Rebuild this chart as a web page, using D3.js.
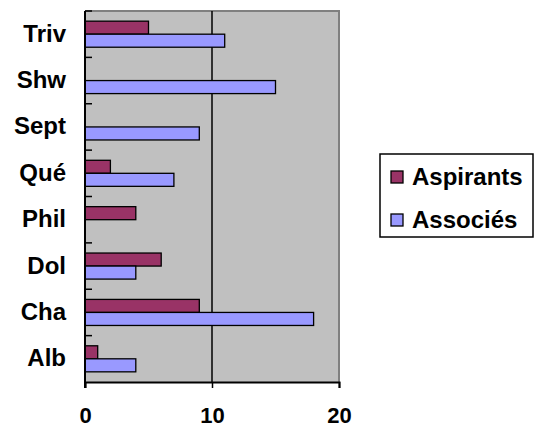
<!DOCTYPE html>
<html>
<head>
<meta charset="utf-8">
<script src="https://cdn.jsdelivr.net/npm/d3@7"></script>
<style>
  body { margin: 0; background: #fff; }
  text { font-family: "Liberation Sans", Arial, sans-serif; font-weight: bold; fill: #000; }
</style>
</head>
<body>
<div id="chart"></div>
<script>
// categories listed top to bottom, as they appear on the chart
const categories = ["Triv", "Shw", "Sept", "Qué", "Phil", "Dol", "Cha", "Alb"];
const aspirants = [5, 0, 0, 2, 4, 6, 9, 1];
const associes = [11, 15, 9, 7, 0, 4, 18, 4];
const seriesNames = ["Aspirants", "Associés"];
const xTicks = [0, 10, 20];

const colors = { Aspirants: "#993366", "Associés": "#9999ff" };
const w = 538;
const h = 423;
const plot = { left: 85, right: 339, top: 11, bottom: 382 };

const svg = d3
  .select("#chart")
  .append("svg")
  .attr("width", w)
  .attr("height", h);

const x = d3.scaleLinear().domain([0, 20]).range([plot.left, plot.right]);
const y = d3
  .scaleBand()
  .domain(categories)
  .range([plot.top, plot.bottom]);
const ySub = d3
  .scaleBand()
  .domain(seriesNames)
  .range([0, y.bandwidth()])
  .paddingInner(0)
  .paddingOuter(0.78);

// plot background + border
svg
  .append("rect")
  .attr("x", plot.left)
  .attr("y", plot.top)
  .attr("width", plot.right - plot.left)
  .attr("height", plot.bottom - plot.top)
  .attr("fill", "#c0c0c0");
svg
  .append("path")
  .attr("d", `M${plot.left},${plot.top}H${plot.right}V${plot.bottom}`)
  .attr("fill", "none")
  .attr("stroke", "#808080")
  .attr("stroke-width", 2);

// gridline
svg
  .selectAll(".grid")
  .data([10])
  .enter()
  .append("line")
  .attr("class", "grid")
  .attr("x1", (d) => x(d))
  .attr("x2", (d) => x(d))
  .attr("y1", plot.top)
  .attr("y2", plot.bottom)
  .attr("stroke", "#000")
  .attr("stroke-width", 1.5);

const rows = categories.map((c, i) => ({
  cat: c,
  values: [
    { name: "Aspirants", value: aspirants[i] },
    { name: "Associés", value: associes[i] },
  ],
}));

const groups = svg
  .selectAll(".cat")
  .data(rows)
  .enter()
  .append("g")
  .attr("class", "cat")
  .attr("transform", (d) => `translate(0,${y(d.cat)})`);

groups
  .selectAll("rect")
  .data((d) => d.values.filter((v) => v.value > 0))
  .enter()
  .append("rect")
  .attr("x", x(0))
  .attr("y", (d) => ySub(d.name))
  .attr("width", (d) => x(d.value) - x(0))
  .attr("height", ySub.bandwidth())
  .attr("fill", (d) => colors[d.name])
  .attr("stroke", "#000")
  .attr("stroke-width", 1.3);

// category axis
svg
  .append("line")
  .attr("x1", plot.left)
  .attr("x2", plot.left)
  .attr("y1", plot.top)
  .attr("y2", plot.bottom + 6)
  .attr("stroke", "#000")
  .attr("stroke-width", 2);
svg
  .selectAll(".ytick")
  .data(categories)
  .enter()
  .append("line")
  .attr("class", "ytick")
  .attr("x1", plot.left)
  .attr("x2", plot.left + 7)
  .attr("y1", (d) => y(d))
  .attr("y2", (d) => y(d))
  .attr("stroke", "#000")
  .attr("stroke-width", 1.5);
svg
  .selectAll(".ylabel")
  .data(categories)
  .enter()
  .append("text")
  .attr("class", "ylabel")
  .attr("x", 66)
  .attr("y", (d) => y(d) + y.bandwidth() / 2 + 7.5)
  .attr("text-anchor", "end")
  .style("font-size", "24px")
  .text((d) => d);

// value axis (labels sit at the very bottom edge, as in the reference)
const xAxis = d3
  .axisBottom(x)
  .tickValues(xTicks)
  .tickSize(6)
  .tickFormat(d3.format("d"));
const gx = svg
  .append("g")
  .attr("transform", `translate(0,${plot.bottom})`)
  .call(xAxis);
gx.select(".domain").attr("stroke", "#000").attr("stroke-width", 2);
gx.selectAll(".tick line").attr("stroke", "#000").attr("stroke-width", 1.5);
gx.selectAll(".tick text")
  .attr("y", 41)
  .attr("dy", 0)
  .attr("fill", "#000")
  .style("font-size", "22px")
  .style("font-family", '"Liberation Sans", Arial, sans-serif')
  .style("font-weight", "bold");

// legend
const legend = svg.append("g");
legend
  .append("rect")
  .attr("x", 380)
  .attr("y", 154)
  .attr("width", 153)
  .attr("height", 83)
  .attr("fill", "#fff")
  .attr("stroke", "#000")
  .attr("stroke-width", 1.5);
const items = legend
  .selectAll(".item")
  .data(seriesNames)
  .enter()
  .append("g")
  .attr("class", "item")
  .attr("transform", (d, i) => `translate(0,${i * 43})`);
items
  .append("rect")
  .attr("x", 391)
  .attr("y", 171)
  .attr("width", 12)
  .attr("height", 12)
  .attr("fill", (d) => colors[d])
  .attr("stroke", "#000")
  .attr("stroke-width", 1.3);
items
  .append("text")
  .attr("x", 412)
  .attr("y", 185)
  .style("font-size", "24px")
  .text((d) => d);
</script>
</body>
</html>
